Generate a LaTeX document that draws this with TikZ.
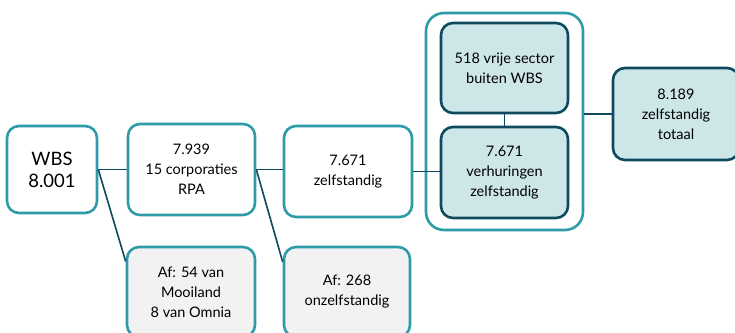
\documentclass[tikz,border=0pt]{standalone}
\usepackage{fontspec}
\setsansfont{Lato}
\definecolor{tealline}{HTML}{2E9BA8}
\definecolor{darkline}{HTML}{0E4A5E}
\definecolor{tealfill}{HTML}{CDE6E8}
\definecolor{greyfill}{HTML}{F2F2F2}
\begin{document}
\begin{tikzpicture}
            [x=1pt, y=-1pt, font=\sffamily\fontsize{14.5}{20}\selectfont,
             stage/.style={draw=tealline, line width=2.6pt, rounded corners=12pt, fill=white, align=center, inner sep=2pt},
             dropped/.style={stage, fill=greyfill},
             rental/.style={stage, draw=darkline, fill=tealfill},
             link/.style={draw=darkline, line width=1.6pt}]
            \clip (0, 0) rectangle (735, 332);
            \fill[white] (0, 0) rectangle (735, 332);
            \node[stage, draw=tealline, fill=none, minimum width=157pt, minimum height=217pt, rounded corners=18pt] (group) at (504.5, 121.5) {};
            \node[stage, minimum width=90pt, minimum height=87pt, font=\sffamily\fontsize{18.5}{22}\selectfont] (wbs) at (52, 169.5) {WBS\\8.001};
            \node[stage, minimum width=127pt, minimum height=91pt] (rpa) at (191.5, 169.5) {7.939\\15 corporaties\\RPA};
            \node[dropped, minimum width=128pt, minimum height=90pt] (mooiland) at (191, 292) {Af: 54 van\\Mooiland\\8 van Omnia};
            \node[dropped, minimum width=126pt, minimum height=90pt] (onzelf) at (347, 292) {Af: 268\\onzelfstandig};
            \node[stage, minimum width=128pt, minimum height=91pt] (zelf) at (348, 171.5) {7.671\\zelfstandig};
            \node[rental, minimum width=127pt, minimum height=90pt] (vrij) at (504.5, 68) {518 vrije sector\\buiten WBS};
            \node[rental, minimum width=127pt, minimum height=91pt] (verh) at (504.5, 172.5) {7.671\\verhuringen\\zelfstandig};
            \node[rental, minimum width=126pt, minimum height=92pt] (totaal) at (676, 114) {8.189\\zelfstandig\\totaal};

            \path[link] (wbs.east) -- (rpa.west);
            \path[link] (wbs.east) -- (mooiland.155);
            \path[link] (rpa.east) -- (rpa.east -| zelf.west);
            \path[link] (rpa.east) -- (onzelf.155);
            \path[link] (zelf.east) -- (verh.west |- zelf.east);
            \path[link] (vrij.south) -- (verh.north);
            \path[link] (group.east |- totaal.west) -- (totaal.west);
        \end{tikzpicture}
\end{document}
